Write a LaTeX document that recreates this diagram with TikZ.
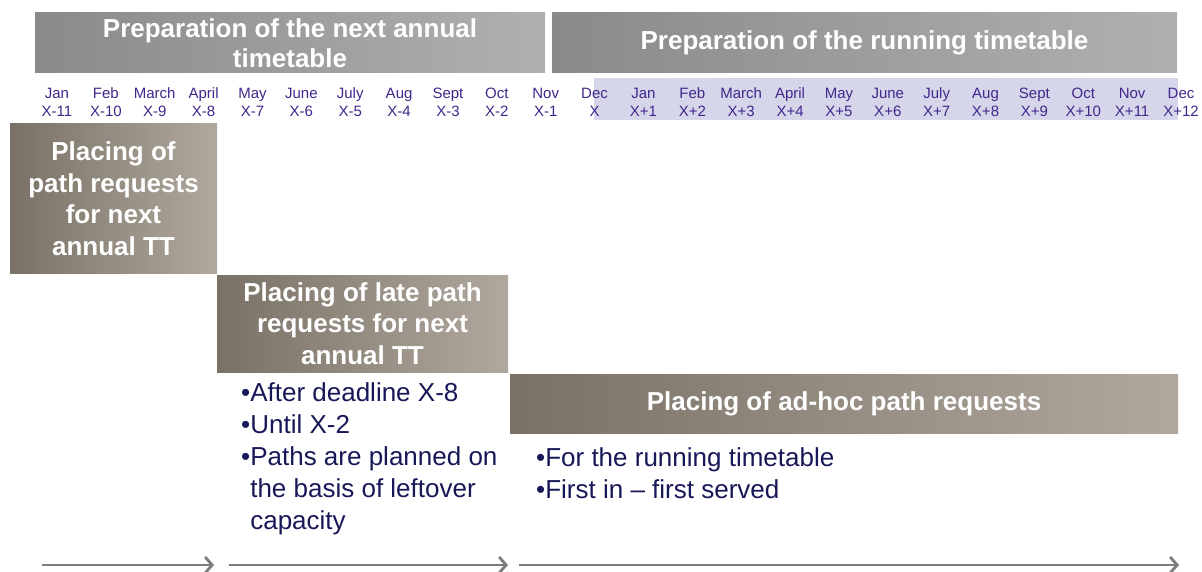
\documentclass[tikz,border=0pt]{standalone}
\usepackage{fontspec}
\setmainfont{Liberation Sans}
\usetikzlibrary{arrows.meta}
\definecolor{monthc}{RGB}{66,38,140}
\definecolor{bulletc}{RGB}{24,24,88}
\definecolor{bandc}{RGB}{214,214,234}
\definecolor{hdrL}{RGB}{138,138,138}
\definecolor{hdrR}{RGB}{176,176,176}
\definecolor{boxL}{RGB}{122,113,102}
\definecolor{boxR}{RGB}{176,168,158}
\definecolor{arrc}{RGB}{125,125,125}
\begin{document}
\begin{tikzpicture}[x=1pt,y=-1pt,
  hdr/.style={left color=hdrL, right color=hdrR, draw=none, inner sep=0pt,
    text=white, font=\fontsize{26}{30}\selectfont\bfseries, align=center},
  taskbox/.style={left color=boxL, right color=boxR, draw=none, inner sep=0pt,
    text=white, font=\fontsize{26}{31.5}\selectfont\bfseries, align=center},
  month/.style={text=monthc, font=\fontsize{15}{18}\selectfont, align=center, inner sep=0pt},
  bullets/.style={text=bulletc, font=\fontsize{26}{32}\selectfont, align=left, inner sep=0pt, anchor=north west},
  timearrow/.style={draw=arrc, line width=2.8pt, -{Straight Barb[length=7pt,width=16pt]}}
]
\path[use as bounding box, fill=white] (0,0) rectangle (1202,572);

% headers
\node[hdr, minimum width=510pt, minimum height=60pt] (h1) at (290,43) {Preparation of the next annual\\timetable};
\node[hdr, minimum width=625pt, minimum height=60pt] (h2) at (864.5,43) {Preparation of the running timetable};

% month band
\fill[bandc] (594,78) rectangle (1178,120);
\foreach \m/\l [count=\i from 0] in {Jan/X-11,Feb/X-10,March/X-9,April/X-8,May/X-7,June/X-6,July/X-5,Aug/X-4,Sept/X-3,Oct/X-2,Nov/X-1,Dec/X,Jan/X+1,Feb/X+2,March/X+3,April/X+4,May/X+5,June/X+6,July/X+7,Aug/X+8,Sept/X+9,Oct/X+10,Nov/X+11,Dec/X+12}
  \node[month] (m\i) at ({57+48.87*\i},102) {\m\\\l};

% task boxes
\node[taskbox, minimum width=207pt, minimum height=149pt] (ba) at (113.5,198.5) {Placing of\\path requests\\for next\\annual TT};
\node[taskbox, minimum width=291pt, minimum height=97pt] (bb) at (362.5,323.5) {Placing of late path\\requests for next\\annual TT};
\node[taskbox, minimum width=668pt, minimum height=59pt] (bc) at (844,404) {Placing of ad-hoc path requests};

% bullet texts
\node[bullets] (tb) at (241,382) {•After deadline X-8\\•Until X-2\\•Paths are planned on\\\phantom{•}the basis of leftover\\\phantom{•}capacity};
\node[bullets] (tc) at (536,447) {•For the running timetable\\•First in – first served};

% time arrows
\coordinate (a1s) at (42,565);  \coordinate (a1e) at (214,565);
\coordinate (a2s) at (229,565); \coordinate (a2e) at (508,565);
\coordinate (a3s) at (519,565); \coordinate (a3e) at (1179,565);
\draw[timearrow] (a1s) -- (a1e);
\draw[timearrow] (a2s) -- (a2e);
\draw[timearrow] (a3s) -- (a3e);
\end{tikzpicture}
\end{document}
